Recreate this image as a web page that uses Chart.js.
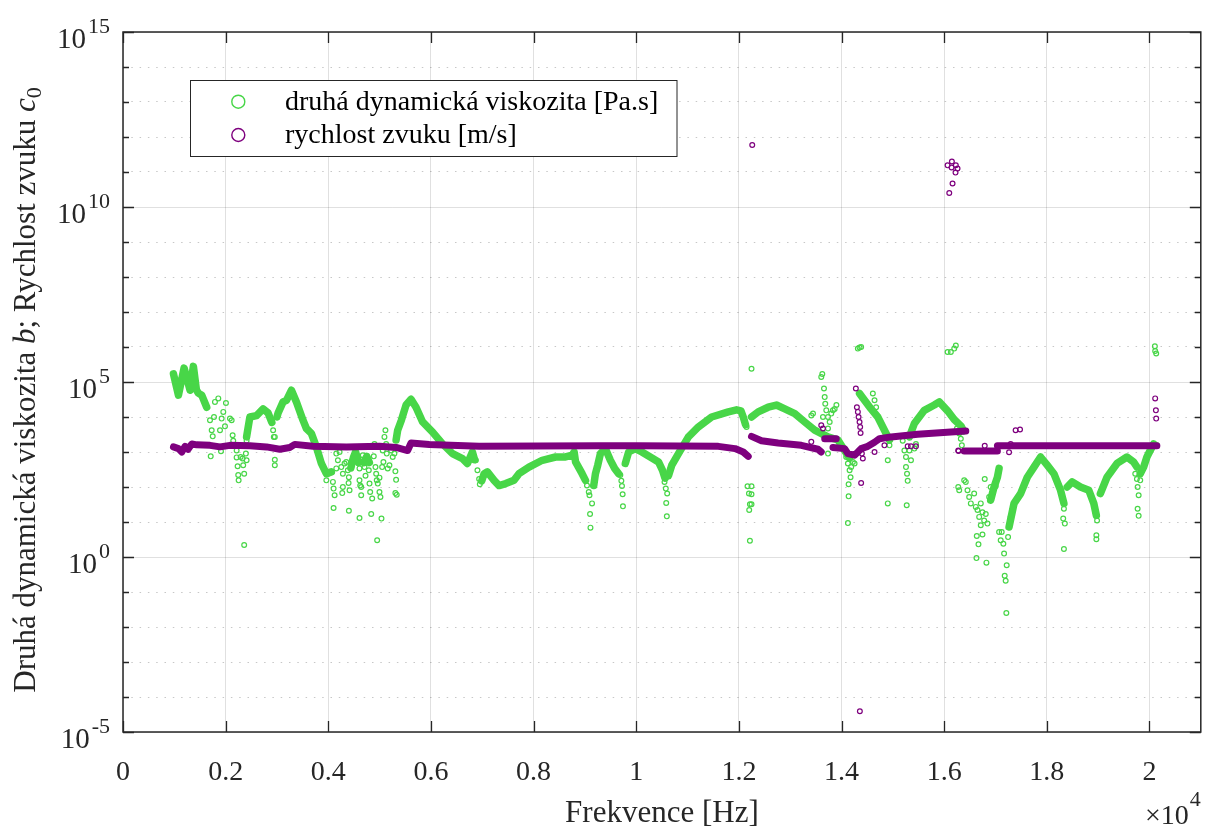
<!DOCTYPE html>
<html>
<head>
<meta charset="utf-8">
<script src="https://cdn.jsdelivr.net/npm/chart.js@4.4.1/dist/chart.umd.min.js"></script>
<style>
  html, body { margin: 0; padding: 0; background: #fff; }
  #wrap { width: 1206px; height: 829px; position: relative; }
</style>
</head>
<body>
<div id="wrap"><canvas id="chart"></canvas></div>
<script>
// axis ticks
const xTickValues = [0, 2000, 4000, 6000, 8000, 10000, 12000, 14000, 16000, 18000, 20000];
const xTickLabels = ['0', '0.2', '0.4', '0.6', '0.8', '1', '1.2', '1.4', '1.6', '1.8', '2'];
const yTickExps = [-5, -4, -3, -2, -1, 0, 1, 2, 3, 4, 5, 6, 7, 8, 9, 10, 11, 12, 13, 14, 15];
const yLabelExps = [-5, 0, 5, 10, 15];

const legendLabels = ['druhá dynamická viskozita [Pa.s]', 'rychlost zvuku [m/s]'];

// druhá dynamická viskozita: dense runs of points [Hz, Pa.s]
const viscRun1 = [[983, 1.7e5], [1080, 4.2e4], [1190, 2.5e5], [1307, 5.8e4], [1371, 2.8e5], [1430, 6e4], [1468, 4.8e4], [1534, 4.2e4], [1631, 1.9e4]];
const viscRun2 = [[2408, 2.7e3], [2472, 1e4], [2602, 1.1e4], [2730, 1.7e4], [2828, 1.3e4], [2900, 7e3]];
const viscRun3 = [[3000, 1e4], [3022, 1.3e4], [3119, 2.7e4], [3185, 3e4], [3282, 5.8e4], [3379, 2.7e4], [3507, 8.1e3], [3573, 4.7e3], [3670, 3.4e3], [3767, 1.4e3], [3865, 4.7e2], [3962, 2.4e2], [4059, 2.7e2]];
const viscRun4 = [[4440, 3.5e2], [4490, 7e2], [4532, 1e3], [4590, 5e2]];
const viscRun5 = [[4690, 5e2], [4750, 7.5e2], [4800, 5e2]];
const viscRun6 = [[5321, 2.2e3], [5352, 4.2e3], [5424, 8.1e3], [5515, 2.2e4], [5612, 3.2e4], [5709, 1.9e4], [5838, 7.2e3], [6032, 3.7e3], [6226, 1.7e3], [6420, 9e2], [6614, 6.5e2], [6711, 4.7e2], [6808, 1e3], [6850, 6e2]];
const viscRun7 = [[6990, 1.5e2], [7036, 2.4e2], [7100, 2.7e2], [7230, 1.55e2], [7327, 1.1e2], [7457, 1.25e2], [7618, 1.55e2], [7715, 2.4e2], [7910, 3.7e2], [8168, 5.8e2], [8428, 7.2e2], [8622, 7.2e2], [8751, 8.1e2], [8790, 1e3], [8818, 5.2e2], [8945, 2.4e2], [9011, 1.55e2]];
const viscRun8 = [[9172, 1.1e2], [9205, 2.4e2], [9250, 4.2e2], [9302, 9e2], [9399, 1.25e3], [9496, 5.8e2], [9580, 3.4e2], [9658, 2.4e2]];
const viscRun9 = [[9787, 4.7e2], [9852, 1e3], [9982, 1.25e3], [10110, 1e3], [10273, 7.2e2], [10434, 5.2e2], [10512, 3e2], [10560, 1.8e2]];
const viscRun10 = [[10629, 2.1e2], [10693, 4.2e2], [10823, 9e2], [11017, 2.7e3], [11211, 5.2e3], [11469, 1e4], [11794, 1.4e4], [11955, 1.6e4], [12040, 1.5e4], [12085, 1e4], [12130, 6e3]];
const viscRun11 = [[12246, 1e4], [12376, 1.4e4], [12570, 1.9e4], [12731, 2.2e4], [12894, 1.7e4], [13089, 1.25e4], [13283, 7.2e3], [13477, 4.2e3], [13735, 2.7e3], [13930, 2.2e3], [14060, 1.1e3], [14157, 6.6e2]];
const viscRun12 = [[14351, 4.7e4], [14448, 3e4], [14576, 1.7e4], [14706, 1e4], [14836, 4.2e3], [14933, 2.2e3]];
const viscRun13 = [[15322, 2.7e3], [15419, 6.5e3], [15613, 1.55e4], [15807, 2.2e4], [15904, 2.7e4], [16066, 1.5e4], [16195, 8.5e3], [16330, 5.5e3], [16376, 4e3]];
const viscRun14 = [[16906, 4.2e1], [16972, 1e2], [17037, 1.9e2], [17070, 3.4e2]];
const viscRun15 = [[17264, 7.2], [17361, 3.4e1], [17489, 6.5e1], [17619, 1.9e2], [17749, 3.7e2], [17878, 7.2e2], [18008, 4.2e2], [18138, 2.4e2], [18267, 8.1e1], [18333, 3.4e1]];
const viscRun16 = [[18397, 1e2], [18494, 1.4e2], [18655, 1e2], [18818, 8.1e1], [18915, 3.4e1], [18965, 1.55e1]];
const viscRun17 = [[19043, 6.5e1], [19172, 1.9e2], [19367, 4.7e2], [19561, 7.2e2], [19691, 5.2e2], [19755, 3.7e2]];
const viscRun18 = [[19820, 2.4e2], [19886, 3.7e2], [19950, 7.2e2], [20014, 1.1e3], [20080, 1.7e3]];

// druhá dynamická viskozita: single scattered points [Hz, Pa.s]
const viscPoints = [
  [1792, 2.7e4], [1857, 3.4e4], [1922, 9e3], [2006, 2.5e4], [2117, 8.1e3], [1695, 8.1e3], [1728, 4.2e3], [1748, 2.8e3], [1709, 7.5e2],
  [1773, 1e4], [1890, 4.2e3], [1909, 1.05e3], [1954, 1.4e4], [1987, 5.4e3], [2084, 9e3], [2136, 3e3], [2148, 2.1e3], [2214, 1.1e3],
  [2214, 7e2], [2233, 3.9e2], [2245, 2.2e2], [2253, 1.55e2], [2292, 7.2e2], [2330, 6.5e2], [2342, 4.2e2], [2361, 2.4e2], [2394, 9e2],
  [2408, 5.8e2], [2408, 2.1e3], [2428, 4.2e3], [2361, 2.2], [2958, 6e2], [2958, 4.2e2], [2925, 4.2e3], [2938, 2.7e3], [2958, 2.7e3],
  [3962, 1.55e2], [3993, 2.4e2], [4090, 1.4e2], [4103, 9e1], [4123, 5.8e1], [4103, 2.5e1], [4156, 9e2], [4187, 5.8e2], [4220, 1e3],
  [4156, 3.4e2], [4253, 3.7e2], [4284, 2.4e2], [4284, 1e2], [4272, 6.7e1], [4317, 4.7e2], [4350, 5.2e2], [4381, 3e2], [4401, 1.9e2],
  [4395, 1.3e2], [4414, 8.1e1], [4401, 2.1e1], [4447, 3.7e2], [4467, 5.8e2], [4511, 8.1e2], [4575, 5.8e2], [4608, 3.4e2], [4608, 1.55e2],
  [4622, 1.1e2], [4641, 1e2], [4641, 5.8e1], [4608, 1.3e1], [4672, 8.1e2], [4705, 3.7e2], [4725, 2.1e2], [4770, 6.5e2], [4789, 3e2],
  [4803, 1.25e2], [4816, 7.2e1], [4836, 1.7e1], [4855, 4.7e1], [4886, 7.5e2], [4900, 1.7e3], [4919, 3.7e2], [4933, 2.4e2], [4944, 1.55e2],
  [4964, 1.25e2], [4997, 1.85e2], [4997, 7.2e1], [5016, 5.2e1], [5036, 1.25e1], [4952, 3], [5049, 3.7e2], [5061, 1.1e3], [5074, 5.2e2],
  [5094, 2.7e3], [5113, 4.2e3], [5127, 1.7e3], [5139, 9e2], [5158, 3.4e2], [5191, 4.2e2], [5224, 1.1e3], [5255, 7.2e2], [5288, 9e2],
  [5307, 2.8e2], [5321, 1.6e2], [5307, 6.7e1], [5333, 6e1],
  [6875, 5.8e2], [6906, 3e2], [6939, 1.7e2], [6952, 1.2e2],
  [9040, 1.1e2], [9075, 7.2e1], [9089, 5.8e1], [9139, 3.4e1], [9100, 1.7e1], [9108, 6.9], [9172, 1.1e2],
  [9690, 2.2e2], [9710, 1.5e2], [9722, 1.07e2], [9735, 6.2e1], [9741, 2.8e1],
  [10551, 1.4e2], [10576, 9e1], [10603, 6.5e1], [10584, 3.5e1], [10596, 1.45e1],
  [12246, 2.4e5], [12149, 5.2e3], [12168, 1.05e2], [12246, 1.05e2], [12196, 6.5e1], [12246, 6.2e1], [12215, 3.2e1], [12246, 3.2e1], [12201, 2.2e1], [12215, 2.9],
  [13605, 1.4e5], [13625, 1.7e5], [13658, 6.5e4], [13672, 3.7e4], [13683, 2.4e4], [13703, 1.55e4], [13736, 1e4], [13769, 7.2e3],
  [13800, 1.25e4], [13833, 1.55e4], [13866, 1.7e4], [13900, 2.2e4], [13638, 1e4], [13736, 4.7e3], [13736, 9e2], [13411, 1.1e4], [13444, 1.25e4],
  [14318, 9e5], [14351, 9.6e5], [14382, 1e6],
  [14091, 7.2e2], [14124, 4.7e2], [14157, 3e2], [14176, 1.9e2], [14138, 1.2e2], [14138, 5.4e1], [14124, 9.3], [14188, 3.7e2], [14221, 5.2e2], [14254, 4.7e2],
  [14610, 4.7e4], [14643, 3e4], [14674, 1.9e4], [14720, 9e3], [14901, 2.7e3], [14934, 1.55e3], [14901, 5.8e2], [14901, 3.4e1],
  [15192, 2.1e3], [15225, 1.1e3], [15256, 7.2e2], [15256, 3.7e2], [15276, 2.4e2], [15289, 1.5e2], [15270, 3e1], [15322, 1.1e3], [15353, 5.8e2],
  [15419, 1.25e3], [15450, 1.7e3],
  [16066, 7.2e5], [16130, 7.2e5], [16196, 9e5], [16227, 1.1e6],
  [16247, 4.7e3], [16293, 3.4e3], [16324, 2.4e3], [16344, 1.55e3], [16274, 1e2], [16293, 8.1e1],
  [16390, 1.55e2], [16421, 1.4e2], [16454, 8.1e1], [16487, 5.2e1], [16519, 3.4e1], [16584, 6.5e1], [16616, 2.7e1], [16649, 2.2e1],
  [16682, 1.4e1], [16713, 3.4e1], [16713, 8.1], [16746, 1.9e1], [16779, 1.1e1], [16810, 1.7e1], [16843, 9], [16876, 5.2e1], [16906, 1e2],
  [16635, 4], [16668, 2.3], [16746, 4.4], [16629, 0.93], [16823, 0.69], [16790, 1.7e2], [17004, 1.05e2],
  [17070, 5.2], [17121, 5.2], [17101, 3], [17153, 2.4], [17167, 1.25], [17218, 0.58], [17179, 0.29], [17198, 0.21], [17211, 0.025],
  [17245, 3.7], [17295, 1.4e1], [17328, 2.2e1],
  [18299, 5.2e1], [18333, 2.4e1], [18319, 1.25e1], [18351, 9], [18333, 1.7],
  [18946, 1.9e1], [18979, 1.1e1], [18965, 4.2], [18965, 3.2],
  [19723, 2.4e2], [19755, 1.7e2], [19769, 1e2], [19789, 5.8e1], [19769, 2.4e1], [19789, 1.5e1], [19820, 1.55e2],
  [20111, 7.7e5], [20131, 6.5e5], [20105, 1.05e6], [20144, 1.55e3]
];

// rychlost zvuku: dense runs of points [Hz, m/s]
const speedRun1 = [[983, 1.4e3], [1080, 1.25e3], [1146, 1e3], [1210, 1.45e3], [1268, 1.2e3], [1340, 1.7e3], [1437, 1.6e3], [1695, 1.55e3], [1890, 1.4e3], [2084, 1.55e3], [2472, 1.5e3], [2796, 1.4e3], [3055, 1.2e3], [3249, 1.35e3], [3346, 1.65e3], [3701, 1.45e3], [4350, 1.4e3], [4997, 1.45e3], [5321, 1.35e3], [5546, 1.1e3], [5612, 1.8e3], [5968, 1.65e3], [6939, 1.45e3], [9269, 1.5e3], [10046, 1.5e3], [11600, 1.45e3], [11924, 1.25e3], [12085, 1e3], [12182, 7.5e2]];
const speedRun2 = [[12246, 2.8e3], [12440, 2.1e3], [12764, 1.8e3], [13217, 1.55e3], [13541, 1.2e3], [13605, 1e3]];
const speedRun3 = [[13672, 2.4e3], [13897, 2.4e3]];
const speedRun4 = [[13833, 1.35e3], [14060, 1.25e3], [14124, 9e2], [14254, 8.1e2], [14318, 1e3], [14382, 1.25e3], [14512, 1.45e3], [14643, 1.9e3], [14740, 2.4e3], [14965, 2.7e3], [15483, 3.2e3], [16130, 3.7e3], [16421, 4e3]];
const speedRun5 = [[16390, 1.07e3], [17037, 1.07e3]];
const speedRun6 = [[17037, 1.5e3], [20144, 1.5e3]];

// rychlost zvuku: single scattered points [Hz, m/s]
const speedPoints = [
  [13605, 5.8e3], [13638, 4.7e3], [13411, 1.95e3],
  [14279, 6.5e4], [14299, 1.9e4], [14318, 1.4e4], [14332, 1e4], [14351, 7.2e3], [14363, 5.2e3], [14371, 3.5e3],
  [14382, 1.3e2], [14396, 9e2], [14415, 6.5e2], [14643, 1e3], [14836, 1.55e3],
  [15289, 1.45e3], [15353, 1.45e3], [15450, 1.45e3], [16274, 1.1e3], [16280, 1.07e3], [16790, 1.5e3],
  [17264, 9.8e2], [17295, 1.7e3], [17392, 4.2e3], [17478, 4.4e3],
  [20111, 3.4e4], [20125, 1.55e4], [20131, 9e3],
  [12260, 5.9e11], [16066, 1.55e11], [16150, 2e11], [16227, 1.55e11], [16144, 1.35e11], [16260, 1.25e11],
  [16221, 9.6e10], [16163, 4.7e10], [16099, 2.5e10],
  [14357, 3.9e-5]
];

const viscRuns = [viscRun1, viscRun2, viscRun3, viscRun4, viscRun5, viscRun6, viscRun7, viscRun8, viscRun9,
  viscRun10, viscRun11, viscRun12, viscRun13, viscRun14, viscRun15, viscRun16, viscRun17, viscRun18];
const speedRuns = [speedRun1, speedRun2, speedRun3, speedRun4, speedRun5, speedRun6];

const GREEN = 'rgb(72,214,72)';
const PURPLE = 'rgb(126,0,126)';
const AXIS = '#262626';
const SERIF = "'Liberation Serif', 'Times New Roman', serif";

const toXY = (arr) => arr.map(p => ({ x: p[0], y: p[1] }));

const datasets = [];
speedRuns.forEach(r => datasets.push({
  data: toXY(r), showLine: true, borderColor: PURPLE, borderWidth: 7,
  borderCapStyle: 'round', borderJoinStyle: 'round', pointRadius: 0, order: 0
}));
datasets.push({
  data: toXY(speedPoints), showLine: false, pointRadius: 2.4, pointBorderWidth: 1.2,
  pointBorderColor: PURPLE, pointBackgroundColor: 'rgba(0,0,0,0)', order: 0
});
viscRuns.forEach(r => datasets.push({
  data: toXY(r), showLine: true, borderColor: GREEN, borderWidth: 7.5,
  borderCapStyle: 'round', borderJoinStyle: 'round', pointRadius: 0, order: 1
}));
datasets.push({
  data: toXY(viscPoints), showLine: false, pointRadius: 2.4, pointBorderWidth: 1.2,
  pointBorderColor: GREEN, pointBackgroundColor: 'rgba(0,0,0,0)', order: 1
});

const isMajor = (ctx) => ctx.tick && Math.round(Math.log10(ctx.tick.value)) % 5 === 0;

// box, inward ticks, labels and legend in the MATLAB style
const matlabFrame = {
  id: 'matlabFrame',
  afterDraw(chart) {
    const { ctx, chartArea: a, scales: { x, y } } = chart;
    ctx.save();
    ctx.strokeStyle = AXIS;
    ctx.fillStyle = AXIS;
    ctx.lineWidth = 1.5;
    ctx.strokeRect(a.left, a.top, a.right - a.left, a.bottom - a.top);

    ctx.lineWidth = 1.3;
    ctx.beginPath();
    xTickValues.forEach(v => {
      const px = Math.round(x.getPixelForValue(v)) + 0.5;
      ctx.moveTo(px, a.bottom); ctx.lineTo(px, a.bottom - 11);
      ctx.moveTo(px, a.top); ctx.lineTo(px, a.top + 11);
    });
    yTickExps.forEach(e => {
      const py = Math.round(y.getPixelForValue(Math.pow(10, e))) + 0.5;
      const len = e % 5 === 0 ? 11 : 6;
      ctx.moveTo(a.left, py); ctx.lineTo(a.left + len, py);
      ctx.moveTo(a.right, py); ctx.lineTo(a.right - len, py);
    });
    ctx.stroke();

    // x tick labels
    ctx.font = '28px ' + SERIF;
    ctx.textAlign = 'center';
    ctx.textBaseline = 'alphabetic';
    xTickValues.forEach((v, i) => {
      ctx.fillText(xTickLabels[i], x.getPixelForValue(v), 780);
    });

    // y tick labels 10^n
    ctx.textAlign = 'left';
    yLabelExps.forEach(e => {
      const py = y.getPixelForValue(Math.pow(10, e));
      ctx.font = '22px ' + SERIF;
      const sup = String(e);
      const supW = ctx.measureText(sup).width;
      ctx.font = '29px ' + SERIF;
      const baseW = ctx.measureText('10').width;
      const right = 110;
      ctx.fillText('10', right - supW - 2 - baseW, py + 16);
      ctx.font = '22px ' + SERIF;
      ctx.fillText(sup, right - supW, py + 0.5);
    });

    // x axis title and exponent
    ctx.font = '31px ' + SERIF;
    ctx.textAlign = 'center';
    ctx.fillText('Frekvence [Hz]', (a.left + a.right) / 2, 822);
    ctx.textAlign = 'right';
    ctx.font = '22px ' + SERIF;
    ctx.fillText('4', a.right, 806);
    const w4 = ctx.measureText('4').width;
    ctx.font = '28px ' + SERIF;
    ctx.fillText('\u00d710', a.right - w4 - 1, 824);

    // y axis title with italic symbols
    const parts = [
      { t: 'Druhá dynamická viskozita ', f: '31px ' + SERIF, dy: 0 },
      { t: 'b', f: 'italic 31px ' + SERIF, dy: 0 },
      { t: '; Rychlost zvuku ', f: '31px ' + SERIF, dy: 0 },
      { t: 'c', f: 'italic 31px ' + SERIF, dy: 0 },
      { t: '0', f: '22px ' + SERIF, dy: 6 }
    ];
    let total = 0;
    parts.forEach(p => { ctx.font = p.f; p.w = ctx.measureText(p.t).width; total += p.w; });
    ctx.save();
    ctx.translate(35, (a.top + a.bottom) / 2 + 8);
    ctx.rotate(-Math.PI / 2);
    ctx.textAlign = 'left';
    let cx = -total / 2;
    parts.forEach(p => { ctx.font = p.f; ctx.fillText(p.t, cx, p.dy); cx += p.w; });
    ctx.restore();

    // legend
    const lx = 190, ly = 80.5, lw = 486.5, lh = 76;
    ctx.fillStyle = '#fff';
    ctx.fillRect(lx, ly, lw, lh);
    ctx.lineWidth = 1;
    ctx.strokeStyle = AXIS;
    ctx.strokeRect(lx + 0.5, ly, lw, lh);
    const rows = [101.7, 135];
    const cols = [GREEN, PURPLE];
    ctx.font = '28px ' + SERIF;
    ctx.textAlign = 'left';
    ctx.textBaseline = 'middle';
    legendLabels.forEach((lab, i) => {
      ctx.beginPath();
      ctx.lineWidth = 1.4;
      ctx.strokeStyle = cols[i];
      ctx.arc(238.3, rows[i], 6.5, 0, Math.PI * 2);
      ctx.stroke();
      ctx.fillStyle = '#000';
      ctx.fillText(lab, 285, rows[i] + 1);
    });
    ctx.restore();
  }
};

new Chart(document.getElementById('chart'), {
  type: 'scatter',
  data: { datasets },
  plugins: [matlabFrame],
  options: {
    responsive: true,
    maintainAspectRatio: false,
    animation: false,
    layout: { padding: { left: 123, right: 2, top: 32, bottom: 97 } },
    plugins: { legend: { display: false }, tooltip: { enabled: false } },
    scales: {
      x: {
        type: 'linear', min: 0, max: 21000,
        afterBuildTicks: (scale) => { scale.ticks = xTickValues.map(v => ({ value: v })); },
        ticks: { display: false },
        grid: { color: 'rgba(0,0,0,0.12)', lineWidth: 1, drawTicks: false },
        border: { display: false }
      },
      y: {
        type: 'logarithmic', min: 1e-5, max: 1e15,
        afterBuildTicks: (scale) => { scale.ticks = yTickExps.map(e => ({ value: Math.pow(10, e) })); },
        ticks: { display: false },
        grid: {
          color: (ctx) => isMajor(ctx) ? 'rgba(0,0,0,0.12)' : 'rgba(0,0,0,0.22)',
          lineWidth: 1, drawTicks: false
        },
        border: { display: false, dash: (ctx) => isMajor(ctx) ? [] : [1.5, 6.8] }
      }
    }
  }
});
</script>
</body>
</html>
